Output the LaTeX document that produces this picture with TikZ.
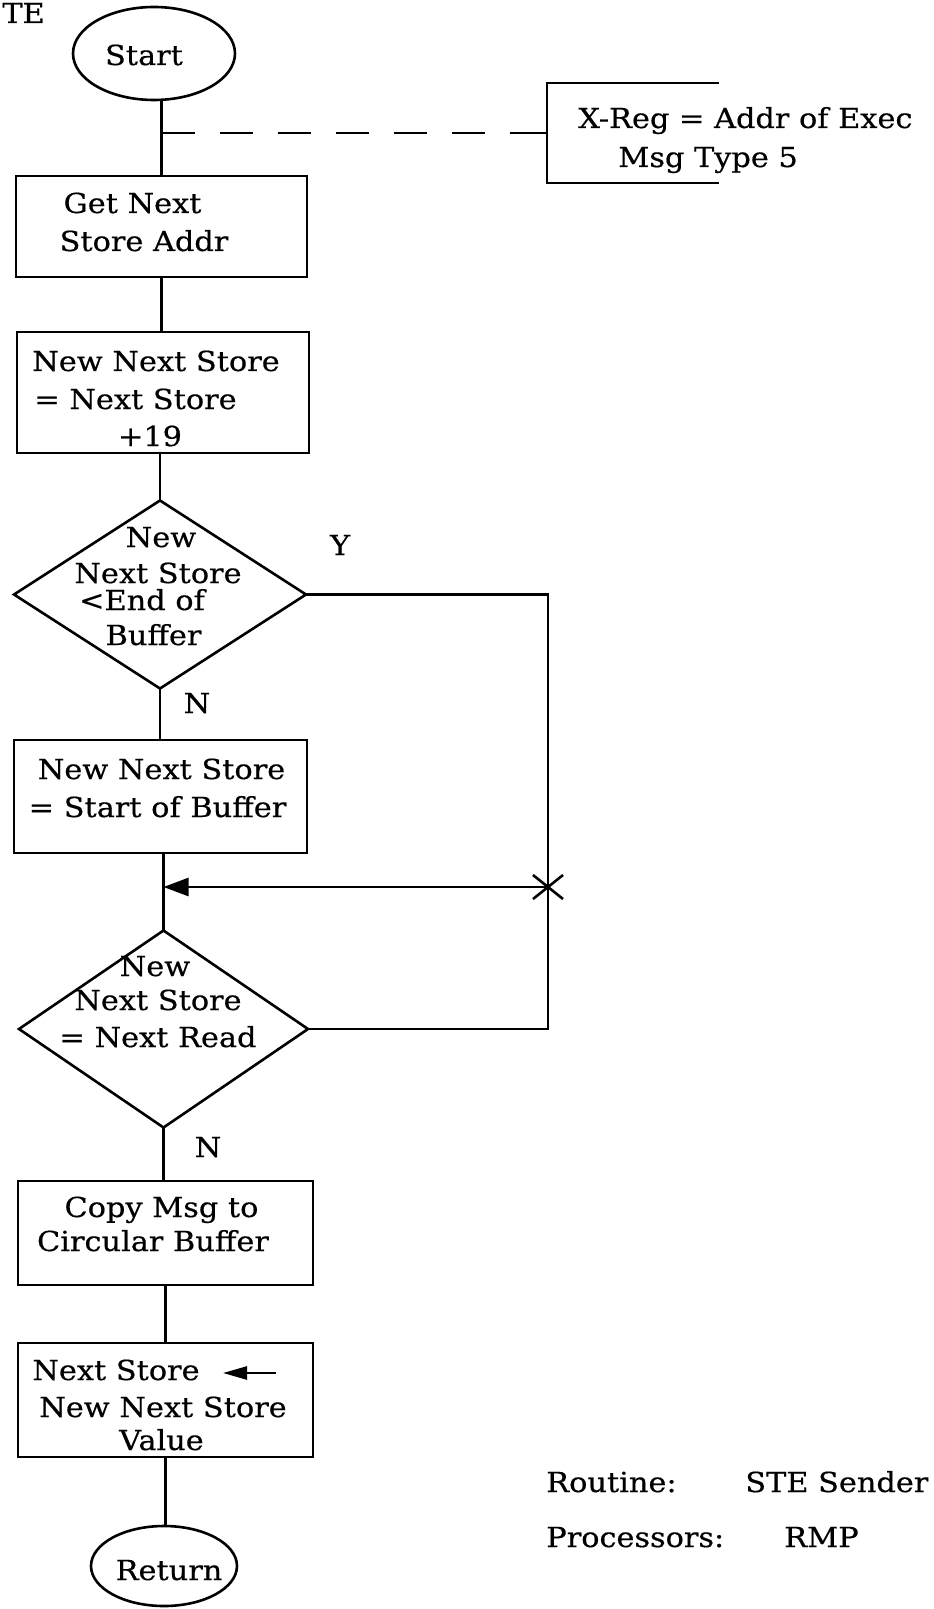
\documentclass[tikz,border=0pt]{standalone}
\usepackage{fontspec}
\setmainfont{DejaVu Serif}[FakeStretch=1.1,FakeBold=0.5]
\usetikzlibrary{shapes.geometric,arrows.meta}
\newcommand\fsz{\fontsize{13.8pt}{16pt}\selectfont}
\begin{document}
\begin{tikzpicture}[x=0.5pt,y=-0.5pt,line width=1.3pt,
  box/.style={draw,rectangle,inner sep=0pt,outer sep=0pt},
  oval/.style={draw,ellipse,inner sep=0pt,outer sep=0pt},
  dia/.style={draw,diamond,inner sep=0pt,outer sep=0pt},
  frame/.style={rectangle,inner sep=0pt,outer sep=0pt},
  txt/.style={anchor=base,inner sep=0pt,font=\fsz},
  ltxt/.style={anchor=base west,inner sep=0pt,font=\fsz},
  rtxt/.style={anchor=base east,inner sep=0pt,font=\fsz},
  dashline/.style={draw,dash pattern=on 16.5pt off 12.5pt},
  bigtip/.style={-{Triangle[length=12.5pt,width=9pt]}},
  smalltip/.style={-{Triangle[length=12pt,width=6.5pt]}}]
\fill[white] (0,0) rectangle (933,1609);
\useasboundingbox (0,0) rectangle (933,1609);

% shapes
\node[oval,minimum width=81pt,minimum height=46.5pt] (Start) at (154,53.5) {};
\node[box,minimum width=145.5pt,minimum height=50.5pt] (GN) at (161.5,226.5) {};
\node[box,minimum width=146pt,minimum height=60.5pt] (B2) at (163,392.5) {};
\node[dia,minimum width=146pt,minimum height=94pt] (D1) at (160,594.5) {};
\node[box,minimum width=146.5pt,minimum height=56.5pt] (B3) at (160.5,796.5) {};
\node[dia,minimum width=144.5pt,minimum height=98.5pt] (D2) at (163.5,1029) {};
\node[box,minimum width=147.5pt,minimum height=52pt] (B4) at (165.5,1233) {};
\node[box,minimum width=147.5pt,minimum height=57pt] (B5) at (165.5,1400) {};
\node[oval,minimum width=73pt,minimum height=40pt] (Ret) at (164,1566) {};
\node[frame,minimum width=86pt,minimum height=50pt] (Annot) at (633,133) {};
\draw (Annot.north east) -- (Annot.north west) -- (Annot.south west) -- (Annot.south east);

% texts
\node[ltxt] (Head) at (1,23) {TE};
\node[txt] (StartT) at (144,65) {Start};
\node[ltxt] (AnnotA) at (577,128) {X-Reg = Addr of Exec};
\node[ltxt] (AnnotB) at (617,167) {Msg Type 5};
\node[txt] (GNa) at (132.5,213) {Get Next};
\node[txt] (GNb) at (144,251) {Store Addr};
\node[txt] (B2a) at (156,371) {New Next Store};
\node[txt] (B2b) at (135.5,409) {= Next Store};
\node[txt] (B2c) at (150,446) {+19};
\node[txt] (D1a) at (161,547) {New};
\node[txt] (D1b) at (158,583) {Next Store};
\node[txt] (D1c) at (142,610) {<End of};
\node[txt] (D1d) at (153.5,645) {Buffer};
\node[txt] (Y1) at (340,555) {Y};
\node[txt] (N1) at (197,713) {N};
\node[txt] (B3a) at (161.5,779) {New Next Store};
\node[txt] (B3b) at (157.5,817) {= Start of Buffer};
\node[txt] (D2a) at (155,976) {New};
\node[txt] (D2b) at (158,1010) {Next Store};
\node[txt] (D2c) at (158,1047) {= Next Read};
\node[txt] (N2) at (208,1157) {N};
\node[txt] (B4a) at (161.5,1217) {Copy Msg to};
\node[txt] (B4b) at (153,1251) {Circular Buffer};
\node[txt] (B5a) at (116,1380) {Next Store};
\node[txt] (B5b) at (163,1417) {New Next Store};
\node[txt] (B5c) at (161.5,1450) {Value};
\node[txt] (RetT) at (169,1580) {Return};
\node[ltxt] (RoutL) at (545,1492) {Routine:};
\node[ltxt] (RoutV) at (744,1492) {STE Sender};
\node[ltxt] (ProcL) at (545,1547) {Processors:};
\node[ltxt] (ProcV) at (783,1547) {RMP};

% connectors
\coordinate (tap) at (161.5,133);
\coordinate (X) at (548,887);
\coordinate (aS) at (276,1373);
\coordinate (aE) at (223,1373);
\draw (Start.south -| GN.north) -- (GN.north);
\draw[dashline] (tap) -- (Annot.west);
\draw (Annot.west) -- ++(-22,0);
\draw (GN.south) -- (GN.south |- B2.north);
\draw (D1.north |- B2.south) -- (D1.north);
\draw (D1.south) -- (D1.south |- B3.north);
\draw (B3.south -| D2.north) -- (D2.north);
\draw (D1.east) -| (X) -- (X |- D2.east) -- (D2.east);
\draw[bigtip] (X) -- (X -| D2.north);
\draw (X) +(-15,-12) -- +(15,12);
\draw (X) +(15,-12) -- +(-15,12);
\draw (D2.south) -- (D2.south |- B4.north);
\draw (B4.south) -- (B5.north);
\draw (B5.south) -- (B5.south |- Ret.north);
\draw[smalltip] (aS) -- (aE);
\end{tikzpicture}
\end{document}
